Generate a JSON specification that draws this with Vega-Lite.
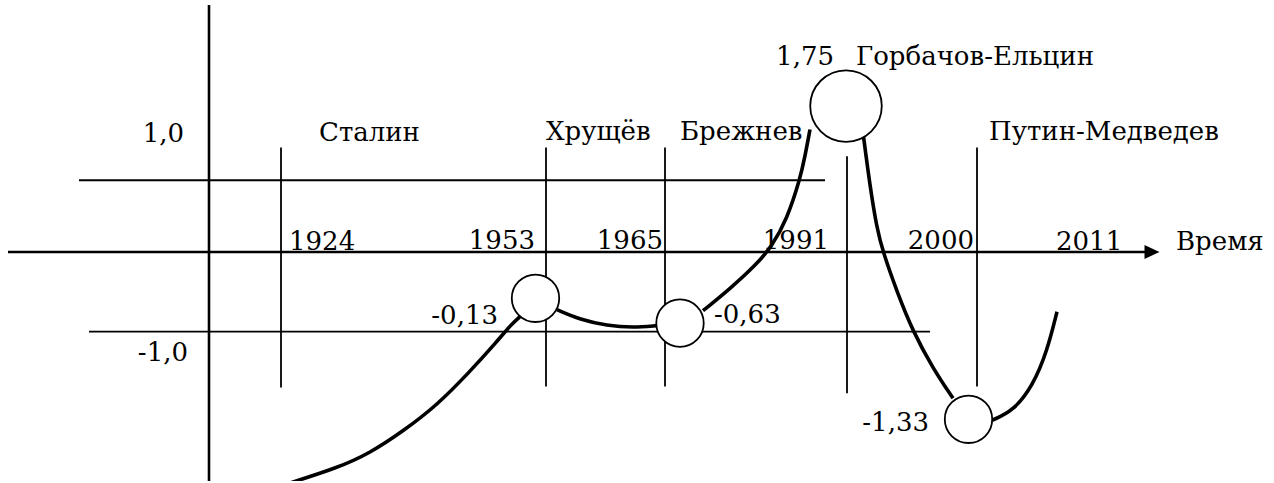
{
  "$schema": "https://vega.github.io/schema/vega-lite/v6.json",
  "autosize": {"type": "fit", "contains": "padding"},
  "width": 1274,
  "height": 483,
  "padding": 0,
  "background": "white",
  "config": {"view": {"stroke": null}},
  "datasets": {
    "axes": [
      {"x": 209, "y": 5, "x2": 209, "y2": 483},
      {"x": 8, "y": 253, "x2": 1146, "y2": 253}
    ],
    "grid": [
      {"x": 79, "y": 181, "x2": 825, "y2": 181},
      {"x": 89, "y": 333, "x2": 930, "y2": 333},
      {"x": 281, "y": 148, "x2": 281, "y2": 389},
      {"x": 546, "y": 148, "x2": 546, "y2": 388},
      {"x": 665, "y": 148, "x2": 665, "y2": 388},
      {"x": 847, "y": 157, "x2": 847, "y2": 395},
      {"x": 977, "y": 148, "x2": 977, "y2": 388}
    ],
    "curves": [
      {"seg": "a", "x": 290, "y": 485},
      {"seg": "a", "x": 337, "y": 470},
      {"seg": "a", "x": 370, "y": 455},
      {"seg": "a", "x": 403, "y": 433},
      {"seg": "a", "x": 437, "y": 407},
      {"seg": "a", "x": 470, "y": 373},
      {"seg": "a", "x": 497, "y": 343},
      {"seg": "a", "x": 510, "y": 327},
      {"seg": "a", "x": 521, "y": 317},
      {"seg": "b", "x": 557, "y": 311},
      {"seg": "b", "x": 580, "y": 321},
      {"seg": "b", "x": 607, "y": 327},
      {"seg": "b", "x": 633, "y": 329},
      {"seg": "b", "x": 657, "y": 327},
      {"seg": "c", "x": 703, "y": 312},
      {"seg": "c", "x": 730, "y": 290},
      {"seg": "c", "x": 757, "y": 265},
      {"seg": "c", "x": 772, "y": 247},
      {"seg": "c", "x": 787, "y": 220},
      {"seg": "c", "x": 800, "y": 180},
      {"seg": "c", "x": 805, "y": 157},
      {"seg": "c", "x": 810, "y": 130},
      {"seg": "d", "x": 863, "y": 133},
      {"seg": "d", "x": 870, "y": 187},
      {"seg": "d", "x": 877, "y": 230},
      {"seg": "d", "x": 883, "y": 253},
      {"seg": "d", "x": 897, "y": 293},
      {"seg": "d", "x": 913, "y": 333},
      {"seg": "d", "x": 933, "y": 370},
      {"seg": "d", "x": 953, "y": 400},
      {"seg": "e", "x": 992, "y": 422},
      {"seg": "e", "x": 1013, "y": 413},
      {"seg": "e", "x": 1033, "y": 387},
      {"seg": "e", "x": 1047, "y": 353},
      {"seg": "e", "x": 1057, "y": 313}
    ],
    "smallCircles": [
      {"x": 535.5, "y": 299.5},
      {"x": 680, "y": 324.5},
      {"x": 968.5, "y": 421}
    ],
    "bigCircles": [
      {"x": 846, "y": 106.5}
    ],
    "arrow": [
      {"x": 1152, "y": 253}
    ],
    "labelsLeft": [
      {"x": 289, "y": 251, "text": "1924"},
      {"x": 1056, "y": 251, "text": "2011"},
      {"x": 319, "y": 142, "text": "Сталин"},
      {"x": 546, "y": 141, "text": "Хрущёв"},
      {"x": 680, "y": 141, "text": "Брежнев"},
      {"x": 856, "y": 65, "text": "Горбачов-Ельцин"},
      {"x": 989, "y": 141, "text": "Путин-Медведев"},
      {"x": 1176, "y": 251, "text": "Время"},
      {"x": 714, "y": 324, "text": "-0,63"}
    ],
    "labelsRight": [
      {"x": 535, "y": 250, "text": "1953"},
      {"x": 663, "y": 250, "text": "1965"},
      {"x": 829, "y": 250, "text": "1991"},
      {"x": 974, "y": 250, "text": "2000"},
      {"x": 498, "y": 325, "text": "-0,13"},
      {"x": 929, "y": 433, "text": "-1,33"},
      {"x": 834, "y": 65, "text": "1,75"},
      {"x": 184, "y": 143, "text": "1,0"},
      {"x": 188, "y": 362, "text": "-1,0"}
    ]
  },
  "encoding": {
    "x": {"field": "x", "type": "quantitative", "axis": null, "scale": {"domain": [0, 1274], "nice": false, "zero": false}},
    "y": {"field": "y", "type": "quantitative", "axis": null, "scale": {"domain": [0, 483], "nice": false, "zero": false, "reverse": true}}
  },
  "layer": [
    {
      "data": {"name": "axes"},
      "mark": {"type": "rule", "color": "black", "strokeWidth": 2.6},
      "encoding": {"x2": {"field": "x2"}, "y2": {"field": "y2"}}
    },
    {
      "data": {"name": "grid"},
      "mark": {"type": "rule", "color": "black", "strokeWidth": 1.8},
      "encoding": {"x2": {"field": "x2"}, "y2": {"field": "y2"}}
    },
    {
      "data": {"name": "curves"},
      "mark": {"type": "line", "color": "black", "strokeWidth": 3.6, "interpolate": "basis", "clip": true},
      "encoding": {"detail": {"field": "seg", "type": "nominal"}}
    },
    {
      "data": {"name": "smallCircles"},
      "mark": {"type": "point", "shape": "circle", "filled": true, "fill": "white", "stroke": "black", "strokeWidth": 1.8, "size": 2250, "opacity": 1}
    },
    {
      "data": {"name": "bigCircles"},
      "mark": {"type": "point", "shape": "circle", "filled": true, "fill": "white", "stroke": "black", "strokeWidth": 1.8, "size": 5120, "opacity": 1}
    },
    {
      "data": {"name": "arrow"},
      "mark": {"type": "point", "shape": "M-1,-0.93L1,0L-1,0.93Z", "filled": true, "fill": "black", "stroke": null, "size": 225, "opacity": 1}
    },
    {
      "data": {"name": "labelsLeft"},
      "mark": {"type": "text", "align": "left", "baseline": "alphabetic", "font": "DejaVu Serif", "fontSize": 26, "color": "black"},
      "encoding": {"text": {"field": "text", "type": "nominal"}}
    },
    {
      "data": {"name": "labelsRight"},
      "mark": {"type": "text", "align": "right", "baseline": "alphabetic", "font": "DejaVu Serif", "fontSize": 26, "color": "black"},
      "encoding": {"text": {"field": "text", "type": "nominal"}}
    }
  ]
}
